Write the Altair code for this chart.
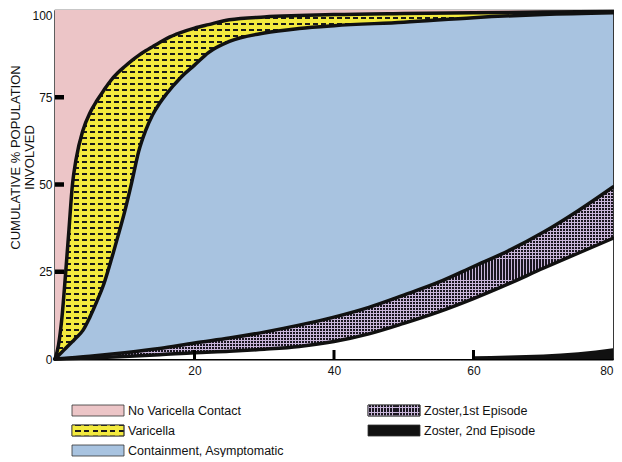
import altair as alt
import pandas as pd

# ---------------- data ----------------
age = [0, 0.5, 1, 1.5, 2, 2.5, 3, 4, 5, 6, 7, 8, 9, 10, 11, 12, 13, 14, 15, 16, 18,
       20, 22, 25, 30, 35, 40, 50, 60, 70, 80]
no_contact_edge = [0, 4, 12, 24, 37, 50, 57, 65.5, 70.5, 74, 77, 79.8, 82, 83.8, 85.5, 87,
                   88.3, 89.5, 90.7, 91.8, 93.5, 94.8, 95.8, 97.2, 98, 98.4, 98.7, 99, 99.2,
                   99.4, 99.6]
varicella_edge = [0, 1, 2, 3, 4, 5, 6, 8.2, 12, 16.5, 21.5, 28, 35, 42.3, 50.6, 59.5,
                  65.5, 70, 73.3, 76, 80.6, 84.2, 87.8, 91, 93.4, 94.7, 95.5, 96.5, 97.8,
                  98.7, 99.2]

zoster_age = [0, 5, 10, 15, 20, 25, 30, 35, 40, 45, 50, 55, 60, 65, 70, 75, 80]
zoster1_top = [0, 0.8, 1.8, 3, 4.6, 6, 7.7, 9.7, 12, 14.8, 18.3, 22, 26.5, 31, 36.3, 42.5, 49.3]
zoster1_bottom = [0, 0.3, 0.7, 1.2, 1.8, 2.2, 2.8, 3.6, 5, 7.2, 10.2, 13.5, 17.3, 21.5, 26, 30.3, 34.6]

zoster2_age = [60, 65, 70, 75, 80]
zoster2_top = [0.8, 1.0, 1.3, 1.9, 3.1]

x_labels = [20, 40, 60, 80]
y_labels = [0, 25, 50, 75, 100]
x_ticks = [20, 40, 60]
y_ticks = [25, 50, 75]

legend_labels = ["No Varicella Contact", "Varicella", "Containment, Asymptomatic",
                 "Zoster,1st Episode", "Zoster, 2nd Episode"]
legend_col = [0, 0, 0, 1, 1]
legend_row = [0, 1, 2, 0, 1]

# ---------------- styling ----------------
W, H = 558, 349
FONT = "Liberation Sans"
PINK = "#ECC5C7"
YELLOW = "#F3EA3E"
BLUE = "#A8C3E0"
LAVENDER = "#C9B6DA"
INK = "#111111"
CLEAR = "rgba(0,0,0,0)"


def stripes(n, frac, bg, fg, rows=True):
    stops = []
    for i in range(n):
        a = round(i / n, 6)
        b = round((i + frac) / n, 6)
        c = round((i + 1) / n, 6)
        stops += [{"offset": a, "color": fg}, {"offset": b, "color": fg},
                  {"offset": b, "color": bg}, {"offset": c, "color": bg}]
    return {"gradient": "linear", "x1": 0, "y1": 0, "x2": 0 if rows else 1,
            "y2": 1 if rows else 0, "stops": stops}


yel_rows = stripes(58, 0.27, YELLOW, "#1a1a1a", rows=True)
yel_cols = stripes(70, 0.375, CLEAR, YELLOW, rows=False)
zos_rows = stripes(57, 0.7, LAVENDER, "#1a1620", rows=True)
zos_cols = stripes(186, 0.3, CLEAR, LAVENDER, rows=False)

leg_yel_rows = stripes(2, 0.27, YELLOW, "#1a1a1a", rows=True)
leg_yel_cols = stripes(6, 0.375, CLEAR, YELLOW, rows=False)
leg_zos_rows = stripes(4, 0.7, LAVENDER, "#1a1620", rows=True)
leg_zos_cols = stripes(17, 0.3, CLEAR, LAVENDER, rows=False)

curves = pd.DataFrame({"age": age, "A": no_contact_edge, "B": varicella_edge})
zoster = pd.DataFrame({"age": zoster_age, "C": zoster1_top, "D": zoster1_bottom})
zoster2 = pd.DataFrame({"age": zoster2_age, "E": zoster2_top})
legend = pd.DataFrame({"label": legend_labels, "col": legend_col, "row": legend_row})

x_axis = alt.Axis(values=x_labels, title=None, labelPadding=6, ticks=False, grid=False,
                  domainWidth=2, domainColor="#000", labelFontSize=12, labelFont=FONT,
                  labelColor=INK, labelFlush=True)
y_axis = alt.Axis(values=y_labels, title=["CUMULATIVE % POPULATION", "INVOLVED"],
                  titleFont=FONT, titleFontSize=13, titleFontWeight="normal",
                  titleColor=INK, titleAngle=270, titleX=-39.5, titleY=147,
                  titleBaseline="middle", titleAlign="center", titleLineHeight=13.5,
                  labelPadding=3, ticks=False, grid=False, domainWidth=2, domainColor="#000",
                  labelFontSize=12, labelFont=FONT, labelColor=INK,
                  labelBaseline={"condition": {"test": "datum.value == 100", "value": "top"},
                                 "value": "middle"})

xs = alt.Scale(domain=[0, 80], nice=False, zero=False)
ys = alt.Scale(domain=[0, 100], nice=False)


def X():
    return alt.X("age:Q", scale=xs, axis=x_axis)


def Y(f):
    return alt.Y(f + ":Q", scale=ys, axis=y_axis)


interp = "monotone"
base_c = alt.Chart(curves)
base_z = alt.Chart(zoster)

pink = base_c.mark_area(fill=PINK, interpolate=interp).encode(X(), Y("A"), y2=alt.Y2Datum(100))
yel1 = base_c.mark_area(fill=yel_rows, interpolate=interp).encode(X(), Y("A"), y2="B:Q")
yel2 = base_c.mark_area(fill=yel_cols, interpolate=interp).encode(X(), Y("A"), y2="B:Q")
blue = base_c.mark_area(fill=BLUE, interpolate=interp).encode(X(), Y("B"), y2=alt.Y2Datum(0))
white = base_z.mark_area(fill="white", interpolate=interp).encode(X(), Y("D"), y2=alt.Y2Datum(0))
zos1 = base_z.mark_area(fill=zos_rows, interpolate=interp).encode(X(), Y("C"), y2="D:Q")
zos2 = base_z.mark_area(fill=zos_cols, interpolate=interp).encode(X(), Y("C"), y2="D:Q")
black = alt.Chart(zoster2).mark_area(fill=INK, interpolate=interp).encode(
    X(), Y("E"), y2=alt.Y2Datum(0))

line_kw = dict(color=INK, strokeWidth=3.5, interpolate=interp, strokeCap="round")
lA = base_c.mark_line(**line_kw).encode(X(), Y("A"))
lB = base_c.mark_line(**line_kw).encode(X(), Y("B"))
lC = base_z.mark_line(**line_kw).encode(X(), Y("C"))
lD = base_z.mark_line(**line_kw).encode(X(), Y("D"))

yt = alt.Chart(pd.DataFrame({"v": y_ticks})).mark_rule(color="#000", strokeWidth=4.5).encode(
    y=alt.Y("v:Q", scale=ys, axis=y_axis), x=alt.value(0), x2=alt.value(9))
xt = alt.Chart(pd.DataFrame({"v": x_ticks})).mark_rule(color="#000", strokeWidth=3).encode(
    x=alt.X("v:Q", scale=xs, axis=x_axis), y=alt.value(H), y2=alt.value(H - 9))

main = alt.layer(pink, yel1, yel2, blue, white, zos1, zos2, black, lA, lB, lC, lD, yt, xt)

# ---------------- legend ----------------
LX = alt.X("col:Q", scale=alt.Scale(domain=[0, 1], range=[43, 339]), axis=None)
LY = alt.Y("row:Q", scale=alt.Scale(domain=[0, 2], range=[400.5, 440.5]), axis=None)
lb = alt.Chart(legend)


def swatch(label, fill, stroke="#333333"):
    return lb.mark_rect(width=52, height=11, fill=fill, stroke=stroke, strokeWidth=0.8).encode(
        LX, LY).transform_filter(alt.datum.label == label)


leg_layers = [
    swatch("No Varicella Contact", PINK),
    swatch("Varicella", leg_yel_rows),
    swatch("Varicella", leg_yel_cols),
    swatch("Containment, Asymptomatic", BLUE),
    swatch("Zoster,1st Episode", leg_zos_rows),
    swatch("Zoster,1st Episode", leg_zos_cols),
    swatch("Zoster, 2nd Episode", INK),
    lb.mark_text(align="left", baseline="middle", dx=30, fontSize=12.5, font=FONT,
                 color=INK).encode(LX, LY, text="label:N"),
]
leg = alt.layer(*leg_layers)

chart = alt.layer(main, leg).resolve_scale(x="independent", y="independent").properties(
    width=W, height=H,
    autosize=alt.AutoSizeParams(type="none"),
    padding={"left": 47, "top": 2, "right": 1, "bottom": 98},
).configure_view(stroke="#222222", strokeWidth=1.2)

chart.save("out.html", embed_options={"renderer": "svg", "actions": False})
